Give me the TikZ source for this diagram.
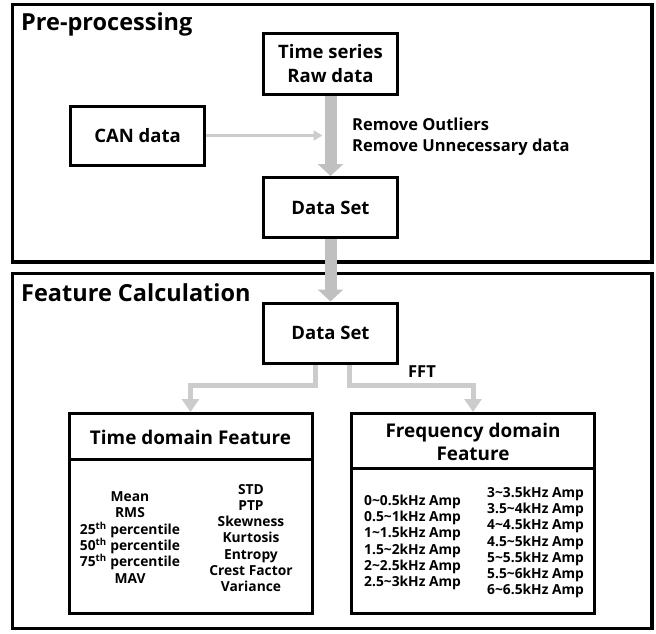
\documentclass[tikz,border=0pt]{standalone}
\usepackage{fontspec}
\setmainfont{Open Sans}
\usetikzlibrary{arrows.meta,positioning,calc}

\definecolor{shaftgray}{RGB}{192,192,192}
\definecolor{lightgray}{RGB}{204,204,204}

\newcommand{\titlefont}{\fontsize{23.5}{28}\selectfont\bfseries}
\newcommand{\boxfont}{\fontsize{18.5}{24}\selectfont\bfseries}
\newcommand{\headfont}{\fontsize{18.9}{23}\selectfont\bfseries}
\newcommand{\notefont}{\fontsize{16.5}{21}\selectfont\bfseries}
\newcommand{\itemfont}{\fontsize{13.8}{16.3}\selectfont\bfseries}

\tikzstyle{frame}=[draw, line width=3.5pt]
\tikzstyle{title}=[font=\titlefont, inner sep=0pt]
\tikzstyle{box}=[draw, line width=3pt, align=center, font=\boxfont, inner sep=0pt]
\tikzstyle{head}=[font=\headfont, align=center, inner sep=0pt]
\tikzstyle{note}=[font=\notefont, align=left, inner sep=0pt]
\tikzstyle{items}=[font=\itemfont, inner sep=0pt]
\tikzstyle{divider}=[line width=3pt, shorten <=1.5pt, shorten >=1.5pt]
\tikzstyle{bigarrow}=[draw=shaftgray, line width=12pt, -{Triangle[width=25pt,length=12pt]}]
\tikzstyle{canarrow}=[draw=lightgray, line width=3pt, -{Triangle[width=10pt,length=9pt]}]
\tikzstyle{branch}=[draw=lightgray, line width=5pt, -{Triangle[width=17pt,length=13pt]}]

\begin{document}
\begin{tikzpicture}[x=1pt,y=-1pt]
    \useasboundingbox (0,0) rectangle (656,634);

    % the two stages
    \draw[frame] (12.5,4.5) rectangle (652,262);
    \draw[frame] (12.5,273.5) rectangle (652,628.5);
    \node[title, anchor=west] (pretitle) at (21,24) {Pre-processing};
    \node[title, anchor=west] (feattitle) at (21,293) {Feature Calculation};

    % pre-processing
    \node[box, minimum width=134pt, minimum height=60pt] (raw) at (330.5,64) {Time series\\Raw data};
    \node[box, minimum width=134pt, minimum height=59pt] (can) at (137.5,135.5) {CAN data};
    \node[box, minimum width=134pt, minimum height=60pt] (set1) at (330.5,207.5) {Data Set};
    \node[note, anchor=west] (remove) at (352,136.5) {Remove Outliers\\Remove Unnecessary data};
    \coordinate (join) at ($(raw.south |- can.east)+(-8,0)$);
    \draw[bigarrow] (raw) -- (set1);
    \draw[canarrow] (can) -- (join);

    % feature calculation
    \node[box, minimum width=134pt, minimum height=60pt] (set2) at (330.5,333) {Data Set};
    \draw[bigarrow] (set1) -- (set2);

    \node[box, minimum width=243pt, minimum height=200pt, anchor=north] (time) at (190.5,412) {};
    \node[box, minimum width=243pt, minimum height=200pt, anchor=north] (freq) at (473,412) {};
    \coordinate (tdiv) at (0,459);
    \coordinate (fdiv) at (0,468.5);
    \draw[divider] (time.west |- tdiv) -- (time.east |- tdiv);
    \draw[divider] (freq.west |- fdiv) -- (freq.east |- fdiv);
    \node[head] (timehead) at (190.5,437) {Time domain Feature};
    \node[head] (freqhead) at (473,442) {Frequency domain\\Feature};

    \draw[branch] ([xshift=-15pt]set2.south) -- ++(0,20.5) -| (time.north);
    \draw[branch] ([xshift=19pt]set2.south) -- ++(0,20.5) -| (freq.north);
    \node[note] (fft) at (422,372) {FFT};

    % time domain features
    \node[items, align=center] (tleft) at (130,537.5)
        {Mean\\RMS\\25\textsuperscript{th} percentile\\50\textsuperscript{th} percentile\\75\textsuperscript{th} percentile\\MAV};
    \node[items, align=center] (tright) at (251,538)
        {STD\\PTP\\Skewness\\Kurtosis\\Entropy\\Crest Factor\\Variance};

    % frequency domain features
    \node[items, align=left, anchor=west] (fleft) at (364,542.5)
        {0\textasciitilde0.5kHz Amp\\0.5\textasciitilde1kHz Amp\\1\textasciitilde1.5kHz Amp\\1.5\textasciitilde2kHz Amp\\2\textasciitilde2.5kHz Amp\\2.5\textasciitilde3kHz Amp};
    \node[items, align=left, anchor=west] (fright) at (487,542.5)
        {3\textasciitilde3.5kHz Amp\\3.5\textasciitilde4kHz Amp\\4\textasciitilde4.5kHz Amp\\4.5\textasciitilde5kHz Amp\\5\textasciitilde5.5kHz Amp\\5.5\textasciitilde6kHz Amp\\6\textasciitilde6.5kHz Amp};
\end{tikzpicture}
\end{document}
